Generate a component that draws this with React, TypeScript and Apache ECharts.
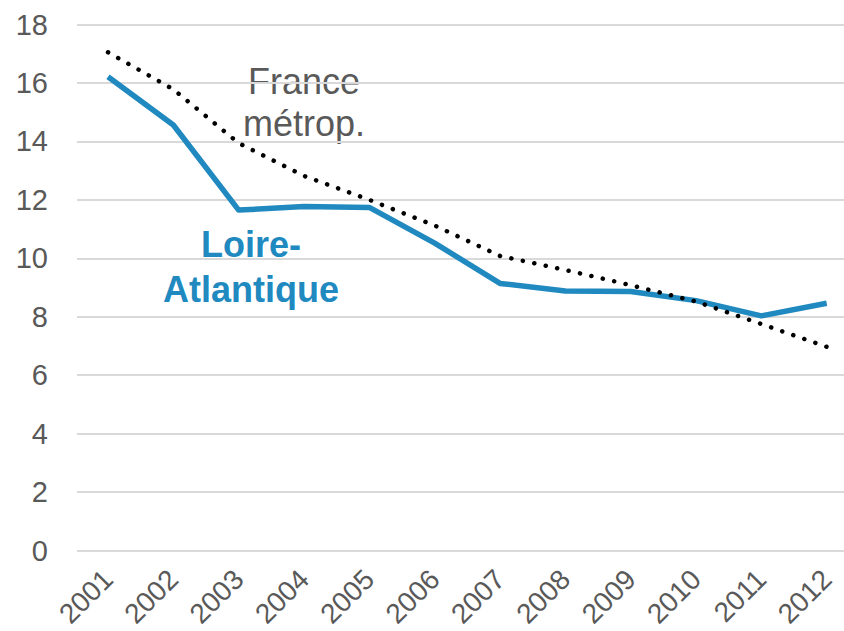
import React, { useEffect, useRef } from "react";
import * as echarts from "echarts";

const years = ["2001", "2002", "2003", "2004", "2005", "2006", "2007", "2008", "2009", "2010", "2011", "2012"];
const loireAtlantique = [16.21, 14.56, 11.65, 11.77, 11.74, 10.52, 9.14, 8.88, 8.86, 8.55, 8.03, 8.46];
const franceMetrop = [17.05, 15.78, 13.94, 12.82, 12.0, 11.12, 10.08, 9.6, 9.08, 8.52, 7.75, 6.97];
const yMin = 0;
const yMax = 18;
const yStep = 2;
const labelFrance = "France\nmétrop.";
const labelLoire = "Loire-\nAtlantique";

const FONT = "'Liberation Sans', Arial, sans-serif";
const GRAY = "#595959";
const BLUE = "#2089BF";

export default function App() {
  const ref = useRef<HTMLDivElement>(null);
  useEffect(() => {
    if (!ref.current) return;
    const chart = echarts.init(ref.current, null, { renderer: "svg" });
    const top = 24.5;
    const bottom = 80.5;
    chart.setOption({
      animation: false,
      backgroundColor: "#ffffff",
      grid: [
        { left: 77, right: 0, top, bottom },
        { left: 108, right: 17.3, top, bottom },
      ],
      xAxis: [
        { gridIndex: 0, type: "category", data: years, show: false },
        {
          gridIndex: 1,
          type: "category",
          data: years,
          boundaryGap: false,
          axisLine: { show: false },
          axisTick: { show: false },
          splitLine: { show: false },
          axisLabel: {
            rotate: 45,
            margin: 24,
            color: GRAY,
            fontSize: 28,
            fontFamily: FONT,
            interval: 0,
          },
        },
      ],
      yAxis: [
        {
          gridIndex: 0,
          type: "value",
          min: yMin,
          max: yMax,
          interval: yStep,
          axisLine: { show: false },
          axisTick: { show: false },
          splitLine: { lineStyle: { color: "#D9D9D9", width: 2 } },
          axisLabel: { color: GRAY, fontSize: 29, fontFamily: FONT, margin: 29 },
        },
        {
          gridIndex: 1,
          type: "value",
          min: yMin,
          max: yMax,
          interval: yStep,
          show: false,
          splitLine: { show: false },
        },
      ],
      series: [
        {
          name: "Loire-Atlantique",
          type: "line",
          xAxisIndex: 1,
          yAxisIndex: 1,
          data: loireAtlantique,
          showSymbol: false,
          symbol: "none",
          lineStyle: { color: BLUE, width: 5.5, join: "round" },
        },
        {
          name: "France métrop.",
          type: "line",
          xAxisIndex: 1,
          yAxisIndex: 1,
          data: franceMetrop,
          showSymbol: false,
          symbol: "none",
          lineStyle: { color: "#000000", width: 4.5, type: [0.1, 11.6], cap: "round" },
        },
      ],
      graphic: [
        {
          type: "text",
          x: 304,
          y: 102.5,
          style: {
            text: labelFrance,
            fill: GRAY,
            font: `36px ${FONT}`,
            align: "center",
            verticalAlign: "middle",
            lineHeight: 42,
          },
        },
        {
          type: "text",
          x: 251,
          y: 267,
          style: {
            text: labelLoire,
            fill: BLUE,
            font: `bold 36px ${FONT}`,
            align: "center",
            verticalAlign: "middle",
            lineHeight: 45,
          },
        },
      ],
    });
    return () => chart.dispose();
  }, []);
  return (
    <div
      ref={ref}
      style={{ position: "fixed", left: 0, top: 0, width: 844, height: 631 }}
    />
  );
}
